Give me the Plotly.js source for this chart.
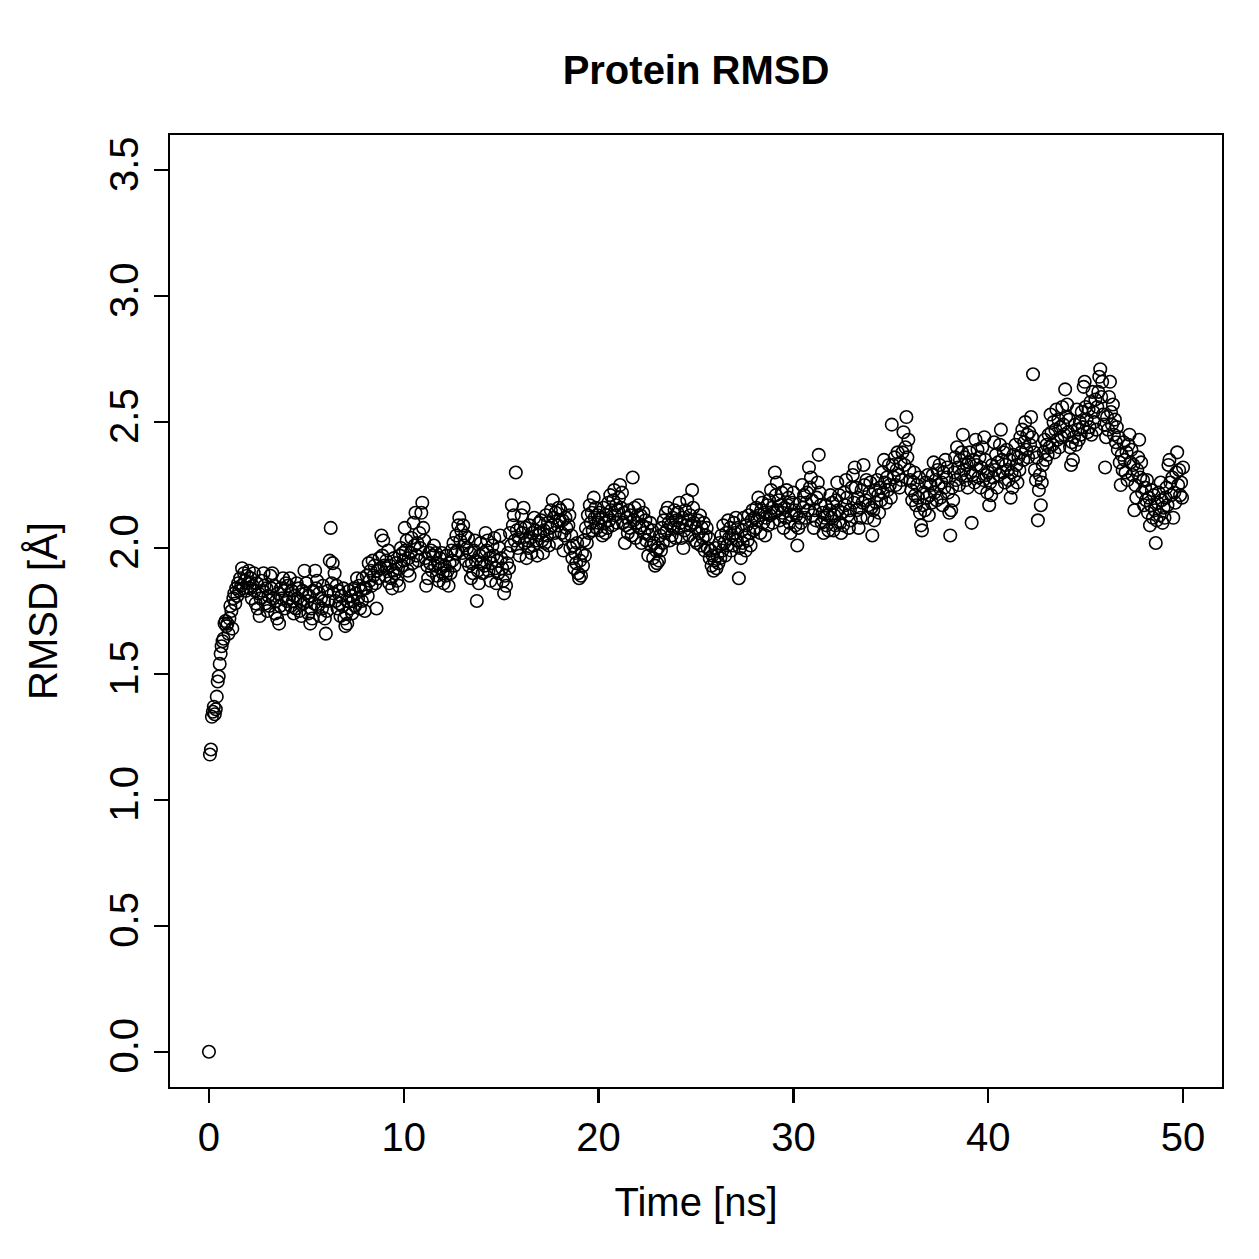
<!DOCTYPE html>
<html>
<head>
<meta charset="utf-8">
<script src="https://cdn.plot.ly/plotly-3.0.1.min.js"></script>
<style>html,body{margin:0;padding:0;background:#fff;}</style>
</head>
<body>
<div id="chart" style="width:1259px;height:1259px;"></div>
<script>
// Sampling step of the trajectory (ns)
const timeStep = 0.05;

// RMSD values (Å), one per frame
const rmsd = [
0.00,
1.18,1.20,1.33,1.35,1.37,1.34,1.36,1.41,1.47,1.49,1.54,1.58,1.61,1.63,1.64,1.70,1.71,1.69,1.70,1.66,
1.72,1.77,1.75,1.68,1.80,1.82,1.78,1.84,1.81,1.86,1.83,1.88,1.85,1.92,1.84,1.90,1.87,1.83,1.89,1.86,
1.91,1.84,1.88,1.80,1.85,1.90,1.83,1.78,1.86,1.76,1.82,1.73,1.80,1.87,1.83,1.90,1.85,1.78,1.84,1.75,
1.81,1.77,1.89,1.84,1.90,1.80,1.85,1.74,1.79,1.72,1.82,1.70,1.77,1.84,1.80,1.88,1.83,1.76,1.86,1.79,
1.85,1.80,1.88,1.77,1.83,1.79,1.74,1.81,1.76,1.86,1.80,1.84,1.75,1.79,1.73,1.83,1.78,1.91,1.82,1.86,
1.79,1.74,1.81,1.70,1.76,1.72,1.83,1.78,1.91,1.84,1.87,1.77,1.82,1.73,1.80,1.76,1.85,1.79,1.72,1.66,
1.75,1.83,1.79,1.95,2.08,1.86,1.94,1.82,1.90,1.79,1.85,1.76,1.83,1.78,1.73,1.81,1.77,1.84,1.72,1.69,
1.74,1.70,1.79,1.83,1.76,1.81,1.74,1.79,1.84,1.77,1.82,1.88,1.80,1.85,1.76,1.83,1.79,1.88,1.84,1.75,
1.84,1.89,1.81,1.94,1.87,1.91,1.85,1.95,1.89,1.93,1.86,1.76,1.91,1.88,1.96,1.92,2.05,1.97,2.03,1.93,
1.89,1.95,1.92,1.99,1.86,1.93,1.88,1.84,1.91,1.96,1.90,1.94,1.87,1.92,1.85,1.97,2.00,1.93,1.98,1.95,
2.08,1.99,2.03,1.91,1.96,1.89,1.98,2.04,1.94,2.10,2.01,2.14,1.97,2.02,1.95,2.06,2.00,2.14,2.18,2.08,
2.03,1.96,1.85,1.93,1.88,1.98,1.94,1.99,1.91,1.97,2.01,1.93,1.98,1.89,1.94,1.87,1.96,1.92,1.98,1.90,
1.86,1.93,1.89,1.97,1.91,1.85,1.94,1.90,1.99,1.95,2.02,1.93,1.98,2.05,1.99,2.09,2.12,2.03,2.07,1.98,
2.09,2.01,2.05,1.95,2.00,2.04,1.93,1.98,1.88,1.94,1.90,1.99,2.03,1.95,1.79,1.91,1.86,1.97,2.02,1.94,
1.90,1.98,1.93,2.06,1.99,2.03,1.91,1.96,1.87,1.94,2.01,1.97,2.04,1.92,1.86,1.95,1.90,2.00,2.05,1.96,
1.92,1.87,1.82,1.89,1.85,1.94,1.98,1.92,2.06,2.01,2.17,2.09,2.13,2.03,2.30,2.07,2.00,2.04,1.97,2.08,
2.13,2.06,2.16,2.02,2.08,1.96,2.03,2.00,2.09,2.04,1.98,2.06,2.01,2.12,2.07,2.03,1.97,2.05,2.10,2.06,
2.11,2.03,1.98,2.07,2.02,2.13,2.05,2.10,2.01,2.08,2.15,2.09,2.19,2.12,2.06,2.14,2.02,2.09,2.16,2.11,
2.15,2.06,2.11,1.99,2.05,2.12,2.08,2.17,2.09,2.13,2.00,2.05,1.96,2.01,1.92,1.98,1.94,2.02,1.90,1.88,
1.95,1.89,1.98,1.93,2.03,1.97,2.08,2.02,2.13,2.06,2.17,2.10,2.14,2.07,2.20,2.12,2.16,2.08,2.13,2.10,
2.14,2.07,2.12,2.05,2.16,2.10,2.06,2.13,2.08,2.18,2.11,2.21,2.15,2.09,2.19,2.23,2.13,2.17,2.10,2.15,
2.20,2.25,2.16,2.22,2.10,2.14,2.02,2.09,2.12,2.06,2.15,2.08,2.13,2.05,2.28,2.11,2.16,2.04,2.10,2.13,
2.17,2.08,2.13,2.02,2.09,2.14,2.06,2.11,2.03,2.08,1.97,2.05,2.10,2.01,2.07,1.96,2.02,1.93,1.99,1.94,
2.00,1.95,2.05,1.99,2.08,2.02,2.11,2.06,2.14,2.07,2.16,2.10,2.03,2.09,2.05,2.12,2.08,2.15,2.04,2.11,
2.14,2.08,2.18,2.10,2.04,2.12,2.00,2.07,2.15,2.09,2.19,2.11,2.05,2.13,2.09,2.23,2.16,2.10,2.03,2.08,
2.02,2.11,2.06,2.13,2.01,2.08,2.04,2.10,1.99,2.05,2.08,2.00,2.04,1.96,1.99,1.93,1.97,1.91,1.95,2.00,
1.92,1.97,1.94,2.02,1.96,2.05,1.99,2.09,2.02,1.97,2.06,2.01,2.11,2.04,2.08,1.99,2.05,2.01,2.10,2.06,
2.12,2.03,2.08,1.88,2.00,1.96,2.07,2.02,2.12,2.05,1.99,2.09,2.03,2.13,2.06,2.01,2.11,2.15,2.07,2.12,
2.08,2.16,2.11,2.20,2.13,2.06,2.15,2.18,2.10,2.14,2.05,2.12,2.17,2.09,2.19,2.13,2.23,2.16,2.10,2.14,
2.30,2.21,2.26,2.15,2.19,2.11,2.17,2.22,2.14,2.08,2.16,2.12,2.23,2.17,2.20,2.10,2.06,2.13,2.18,2.22,
2.15,2.09,2.13,2.01,2.08,2.12,2.18,2.10,2.25,2.16,2.21,2.12,2.18,2.22,2.15,2.32,2.24,2.28,2.19,2.13,
2.08,2.15,2.11,2.20,2.26,2.37,2.22,2.17,2.10,2.14,2.06,2.12,2.17,2.09,2.13,2.07,2.15,2.21,2.12,2.18,
2.07,2.13,2.09,2.19,2.26,2.15,2.21,2.10,2.06,2.14,2.09,2.22,2.17,2.27,2.20,2.13,2.08,2.15,2.11,2.24,
2.29,2.18,2.32,2.24,2.15,2.20,2.08,2.16,2.12,2.23,2.18,2.33,2.25,2.19,2.27,2.12,2.17,2.22,2.26,2.16,
2.05,2.15,2.11,2.23,2.18,2.27,2.21,2.14,2.24,2.19,2.30,2.22,2.35,2.26,2.18,2.28,2.23,2.33,2.25,2.20,
2.49,2.33,2.28,2.36,2.25,2.31,2.38,2.29,2.24,2.34,2.27,2.38,2.46,2.33,2.40,2.52,2.36,2.43,2.31,2.27,
2.23,2.19,2.26,2.30,2.21,2.17,2.25,2.20,2.28,2.14,2.09,2.07,2.17,2.22,2.15,2.26,2.20,2.29,2.13,2.21,
2.25,2.18,2.29,2.34,2.22,2.27,2.19,2.31,2.25,2.33,2.20,2.26,2.17,2.30,2.24,2.35,2.28,2.32,2.22,2.14,
2.05,2.15,2.24,2.19,2.30,2.36,2.27,2.40,2.32,2.25,2.35,2.29,2.38,2.45,2.31,2.36,2.27,2.33,2.24,2.34,
2.38,2.30,2.10,2.29,2.35,2.26,2.43,2.33,2.39,2.28,2.36,2.24,2.32,2.40,2.27,2.44,2.35,2.29,2.22,2.30,
2.17,2.26,2.21,2.33,2.28,2.42,2.31,2.37,2.24,2.34,2.29,2.41,2.47,2.35,2.30,2.38,2.26,2.33,2.39,2.31,
2.27,2.35,2.20,2.30,2.24,2.37,2.29,2.41,2.33,2.26,2.36,2.31,2.44,2.38,2.47,2.35,2.42,2.50,2.39,2.45,
2.36,2.46,2.41,2.52,2.44,2.69,2.38,2.31,2.27,2.36,2.11,2.23,2.29,2.17,2.26,2.33,2.38,2.43,2.35,2.41,
2.37,2.45,2.40,2.53,2.46,2.41,2.50,2.38,2.47,2.55,2.43,2.51,2.40,2.48,2.44,2.56,2.49,2.45,2.63,2.52,
2.57,2.46,2.51,2.40,2.33,2.42,2.35,2.44,2.49,2.41,2.55,2.47,2.43,2.50,2.45,2.54,2.48,2.64,2.66,2.56,
2.51,2.46,2.55,2.48,2.58,2.45,2.62,2.54,2.50,2.59,2.47,2.56,2.62,2.68,2.71,2.60,2.66,2.53,2.49,2.32,
2.44,2.52,2.47,2.60,2.66,2.54,2.49,2.57,2.45,2.51,2.42,2.48,2.39,2.44,2.34,2.25,2.37,2.31,2.42,2.35,
2.30,2.38,2.27,2.41,2.45,2.34,2.39,2.29,2.33,2.15,2.25,2.20,2.31,2.36,2.43,2.28,2.34,2.22,2.27,2.17,
2.24,2.19,2.27,2.14,2.20,2.09,2.17,2.23,2.12,2.21,2.15,2.02,2.11,2.18,2.22,2.13,2.26,2.19,2.10,2.16,
2.12,2.20,2.24,2.17,2.33,2.35,2.26,2.21,2.28,2.12,2.22,2.18,2.30,2.38,2.25,2.31,2.21,2.26,2.20,2.32
];

// Time axis (ns) for each frame
const timeNs = rmsd.map((_, i) => +(i * timeStep).toFixed(2));

const xTicks = [0, 10, 20, 30, 40, 50];
const yTicks = [0.0, 0.5, 1.0, 1.5, 2.0, 2.5, 3.0, 3.5];
const yTickLabels = ["0.0", "0.5", "1.0", "1.5", "2.0", "2.5", "3.0", "3.5"];

const FONT = "Liberation Sans, Arial, Helvetica, sans-serif";

const trace = {
  x: timeNs,
  y: rmsd,
  type: "scatter",
  mode: "markers",
  marker: {
    symbol: "circle-open",
    size: 12.5,
    color: "#000",
    line: { width: 1.6, color: "#000" }
  },
  hoverinfo: "x+y"
};

const layout = {
  width: 1259,
  height: 1259,
  paper_bgcolor: "#fff",
  plot_bgcolor: "#fff",
  showlegend: false,
  margin: { l: 170, r: 37, t: 135, b: 172, pad: 0 },
  font: { family: FONT, size: 40, color: "#000" },
  title: {
    text: "<b>Protein RMSD</b>",
    font: { family: FONT, size: 40, color: "#000" },
    x: 0.5528, xref: "container", xanchor: "center",
    y: 1 - 70 / 1259, yref: "container", yanchor: "middle"
  },
  xaxis: {
    range: [-2, 52],
    tickmode: "array",
    tickvals: xTicks,
    ticktext: xTicks.map(String),
    ticks: "outside",
    ticklen: 14,
    tickwidth: 2.2,
    tickcolor: "#000",
    showgrid: false,
    zeroline: false,
    showline: true,
    linecolor: "#000",
    linewidth: 2.2,
    mirror: true,
    tickfont: { family: FONT, size: 40, color: "#000" },
    title: { text: "Time [ns]", font: { family: FONT, size: 40, color: "#000" }, standoff: 30 }
  },
  yaxis: {
    range: [-0.14, 3.64],
    tickmode: "array",
    tickvals: yTicks,
    ticktext: yTickLabels,
    tickangle: -90,
    ticks: "outside",
    ticklen: 14,
    tickwidth: 2.2,
    tickcolor: "#000",
    showgrid: false,
    zeroline: false,
    showline: true,
    linecolor: "#000",
    linewidth: 2.2,
    mirror: true,
    tickfont: { family: FONT, size: 40, color: "#000" },
    title: { text: "RMSD [Å]", font: { family: FONT, size: 40, color: "#000" }, standoff: 32 }
  }
};

Plotly.newPlot("chart", [trace], layout, { displayModeBar: false, staticPlot: true });
</script>
</body>
</html>
